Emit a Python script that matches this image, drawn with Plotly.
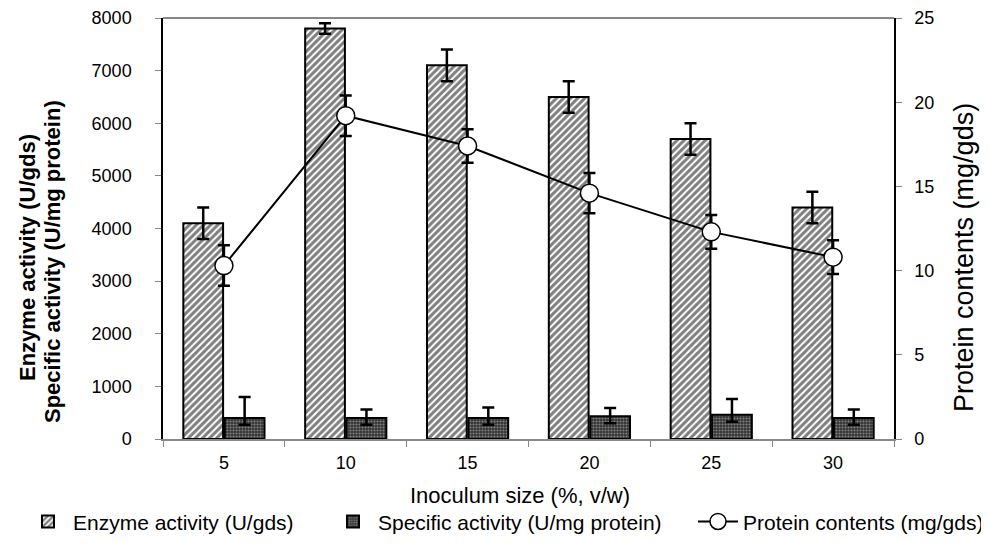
import plotly.graph_objects as go

categories = ["5", "10", "15", "20", "25", "30"]
enzyme = [4100, 7800, 7100, 6500, 5700, 4400]
enzyme_err = [300, 100, 300, 300, 300, 300]
specific = [400, 400, 400, 430, 460, 400]
specific_err_up = [400, 160, 200, 160, 300, 160]
specific_err_dn = [130, 130, 130, 130, 130, 130]
protein = [10.3, 19.2, 17.4, 14.6, 12.3, 10.8]
protein_err = [1.2, 1.2, 1.0, 1.2, 1.0, 1.0]

font = "Arial, Liberation Sans, sans-serif"

# page body adds an 8px offset; size the figure so the plot sits where the reference has it
W, H = 981, 542
L, R, T, B = 155, 95, 10, 111

fig = go.Figure()
fig.add_trace(go.Bar(
    x=categories, y=enzyme, name="Enzyme activity (U/gds)", legend="legend",
    marker=dict(color="white", line=dict(color="black", width=2),
                pattern=dict(shape="/", fgcolor="black", bgcolor="white", size=5, solidity=0.6)),
    error_y=dict(type="data", array=enzyme_err, color="black", thickness=2.5, width=6),
))
fig.add_trace(go.Bar(
    x=categories, y=specific, name="Specific activity (U/mg protein)", legend="legend2",
    marker=dict(color="#444", line=dict(color="black", width=2),
                pattern=dict(shape=".", fgcolor="#d0d0d0", bgcolor="#333333", size=3, solidity=0.4)),
    error_y=dict(type="data", symmetric=False, array=specific_err_up, arrayminus=specific_err_dn,
                 color="black", thickness=2.5, width=6),
))
fig.add_trace(go.Scatter(
    x=categories, y=protein, yaxis="y2", name="Protein contents (mg/gds)", legend="legend3",
    mode="lines+markers",
    line=dict(color="black", width=2),
    marker=dict(symbol="circle", size=18, color="white", line=dict(color="black", width=1.5)),
    error_y=dict(type="data", array=protein_err, color="black", thickness=2.5, width=6),
))


def cx(sx):
    return (sx - 8) / W


leg_common = dict(orientation="h", xref="container", yref="container", xanchor="left",
                  y=0.052, yanchor="middle", font=dict(size=21), itemwidth=40,
                  bgcolor="rgba(0,0,0,0)", borderwidth=0)

fig.update_layout(
    width=W, height=H,
    margin=dict(l=L, r=R, t=T, b=B),
    plot_bgcolor="white", paper_bgcolor="white",
    barmode="group", bargap=0.32, bargroupgap=0.04,
    font=dict(family=font, size=18, color="black"),
    showlegend=True,
    legend=dict(x=cx(23), **leg_common),
    legend2=dict(x=cx(328), **leg_common),
    legend3=dict(x=cx(693), **leg_common),
    xaxis=dict(
        automargin=False,
        tickson="boundaries", ticks="outside", ticklen=6, tickcolor="#888",
        showline=True, linecolor="#888", linewidth=1.5, ticklabelstandoff=7,
        tickfont=dict(size=18), showgrid=False,
    ),
    yaxis=dict(
        automargin=False,
        range=[0, 8000], dtick=1000, ticks="outside", ticklen=6, tickcolor="#888",
        showline=True, linecolor="black", linewidth=1.5, showgrid=False, zeroline=False,
        ticklabelstandoff=20, tickfont=dict(size=18),
    ),
    yaxis2=dict(
        automargin=False,
        overlaying="y", side="right", range=[0, 25], dtick=5,
        ticks="outside", ticklen=6, tickcolor="#888",
        showline=True, linecolor="black", linewidth=1.5, showgrid=False, zeroline=False,
        ticklabelstandoff=9, tickfont=dict(size=18),
    ),
    shapes=[dict(type="line", xref="paper", yref="paper", x0=0, x1=1, y0=1, y1=1,
                 line=dict(color="#888", width=2))],
)

pw = W - L - R
ph = H - T - B


def px_x(sx):
    return (sx - 8 - L) / pw


def px_y(sy):
    return (H - B - (sy - 8)) / ph


fig.add_annotation(text="Inoculum size (%, v/w)", xref="paper", yref="paper",
                   x=px_x(520), y=px_y(495), xanchor="center", yanchor="middle",
                   showarrow=False, font=dict(size=22))
fig.add_annotation(text="<b>Enzyme activity (U/gds)</b>", xref="paper", yref="paper",
                   x=px_x(27), y=px_y(258), xanchor="center", yanchor="middle",
                   textangle=-90, showarrow=False, font=dict(size=22))
fig.add_annotation(text="<b>Specific activity (U/mg protein)</b>", xref="paper", yref="paper",
                   x=px_x(53), y=px_y(262), xanchor="center", yanchor="middle",
                   textangle=-90, showarrow=False, font=dict(size=22))
fig.add_annotation(text="Protein contents (mg/gds)", xref="paper", yref="paper",
                   x=px_x(964), y=px_y(258), xanchor="center", yanchor="middle",
                   textangle=-90, showarrow=False, font=dict(size=27))

fig.write_html("out.html")
